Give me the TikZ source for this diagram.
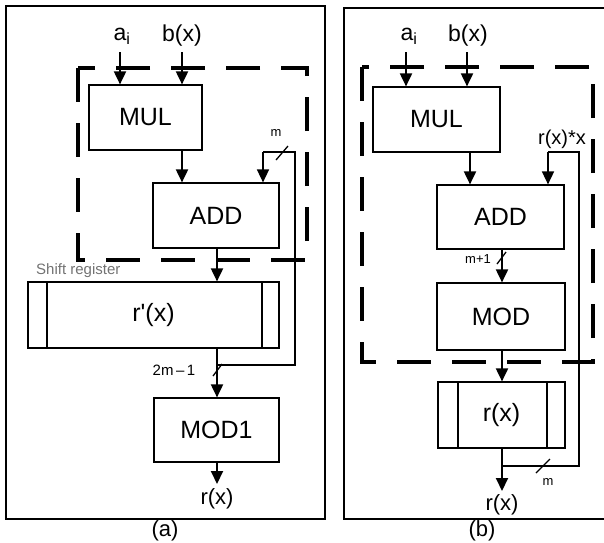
\documentclass[tikz,border=0pt]{standalone}
\usepackage{fontspec}
\setmainfont{Liberation Sans}
\usetikzlibrary{arrows.meta,calc}
\begin{document}
\begin{tikzpicture}[x=1pt,y=-1pt,
  blk/.style={draw,line width=1.2pt,inner sep=0pt,font=\fontsize{25}{25}\selectfont},
  arr/.style={line width=1.9pt,-{Triangle[length=13pt,width=12pt]}},
  fb/.style={line width=1.4pt},
  fbarr/.style={line width=1.6pt,-{Triangle[length=13pt,width=12pt]}},
  dbox/.style={line width=3.8pt,dash pattern=on 34pt off 21pt},
  frame/.style={line width=1.4pt},
  inlbl/.style={inner sep=0pt,font=\fontsize{23}{23}\selectfont},
  small/.style={inner sep=0pt,font=\fontsize{13}{13}\selectfont},
  slash/.style={line width=1.3pt}]
\clip (0,0) rectangle (604,542);
\fill[white] (0,0) rectangle (604,542);

% ---------- panel (a) ----------
\draw[frame] (6,6) rectangle (325,519);
\node[inner sep=0pt,font=\fontsize{22}{22}\selectfont] (capA) at (165,531) {(a)};
\draw[dbox] (78,68) rectangle (307,260);

\node[blk,minimum width=113pt,minimum height=65pt] (mulA) at (145.5,117.5) {MUL};
\node[blk,minimum width=126pt,minimum height=65pt] (addA) at (216,215.5) {ADD};
\node[blk,minimum width=251pt,minimum height=66pt] (rpA) at (153.5,315) {r\textquotesingle(x)};
\draw[line width=1.2pt] (47,282) -- (47,348) (262,282) -- (262,348);
\node[blk,minimum width=125pt,minimum height=64pt] (modA) at (216.5,430) {MOD1};

\node[inlbl] (aiA) at (122,36) {a\textsubscript{i}};
\node[inlbl] (bxA) at (182,36) {b(x)};
\coordinate (aA) at (120,52);
\coordinate (bA) at (182,52);
\draw[arr] (aA) -- (aA |- mulA.north);
\draw[arr] (bA) -- (bA |- mulA.north);
\coordinate (mA) at (182,150);
\draw[arr] (mA |- mulA.south) -- (mA |- addA.north);
\coordinate (oA) at (217,250);
\draw[arr] (oA |- addA.south) -- (oA |- rpA.north);
\coordinate (jA) at (217,365);
\draw[arr] (jA |- rpA.south) -- (jA |- modA.north);
\coordinate (c1A) at (295,365);
\coordinate (c2A) at (295,152);
\coordinate (c3A) at (263,152);
\draw[fb] (jA) -- (c1A) -- (c2A) -- (c3A);
\draw[fbarr] (c3A) -- (c3A |- addA.north);
\draw[slash] (276,160) -- (288,146);
\node[small] (mlA) at (276,133) {m};
\draw[slash] (213,376) -- (222,364);
\node[small,font=\fontsize{15}{15}\selectfont] (lA) at (174,370) {2m\,--\,1};
\node[inner sep=0pt,text=black!55,font=\fontsize{15}{15}\selectfont,anchor=west] (srA) at (36,271) {Shift register};
\coordinate (eA) at (217,484);
\draw[arr] (eA |- modA.south) -- (eA);
\node[inlbl,font=\fontsize{22}{22}\selectfont] (rxA) at (217,499) {r(x)};

% ---------- panel (b) ----------
\draw[frame] (610,8) -- (344,8) -- (344,519) -- (610,519);
\node[inner sep=0pt,font=\fontsize{22}{22}\selectfont] (capB) at (482,531) {(b)};
\draw[dbox] (362,67) rectangle (593,362);

\node[blk,minimum width=127pt,minimum height=65pt] (mulB) at (436.5,119.5) {MUL};
\node[blk,minimum width=127pt,minimum height=64pt] (addB) at (500.5,217) {ADD};
\node[blk,minimum width=128pt,minimum height=67pt] (modB) at (501,316.5) {MOD};
\node[blk,minimum width=127pt,minimum height=66pt] (rB) at (501.5,415) {r(x)};
\draw[line width=1.2pt] (458,382) -- (458,448) (547,382) -- (547,448);

\node[inlbl] (aiB) at (409,36) {a\textsubscript{i}};
\node[inlbl] (bxB) at (468,36) {b(x)};
\coordinate (aB) at (406,52);
\coordinate (bB) at (467,52);
\draw[arr] (aB) -- (aB |- mulB.north);
\draw[arr] (bB) -- (bB |- mulB.north);
\coordinate (mB) at (470,150);
\draw[arr] (mB |- mulB.south) -- (mB |- addB.north);
\coordinate (oB) at (502,250);
\draw[arr] (oB |- addB.south) -- (oB |- modB.north);
\draw[arr] (oB |- modB.south) -- (oB |- rB.north);
\coordinate (jB) at (502,466);
\coordinate (eB) at (502,491);
\draw[arr] (oB |- rB.south) -- (eB);
\coordinate (c1B) at (579,466);
\coordinate (c2B) at (579,152);
\coordinate (c3B) at (548,152);
\draw[fb] (jB) -- (c1B) -- (c2B) -- (c3B);
\draw[fbarr] (c3B) -- (c3B |- addB.north);
\node[inlbl,font=\fontsize{20}{20}\selectfont] (rxxB) at (562,139) {r(x)*x};
\draw[slash] (497,264) -- (506,252);
\node[small] (m1B) at (478,259) {m+1};
\draw[slash] (536,473) -- (550,459);
\node[small] (mB2) at (548,482) {m};
\node[inlbl,font=\fontsize{22}{22}\selectfont] (rxB) at (502,505) {r(x)};
\end{tikzpicture}
\end{document}
